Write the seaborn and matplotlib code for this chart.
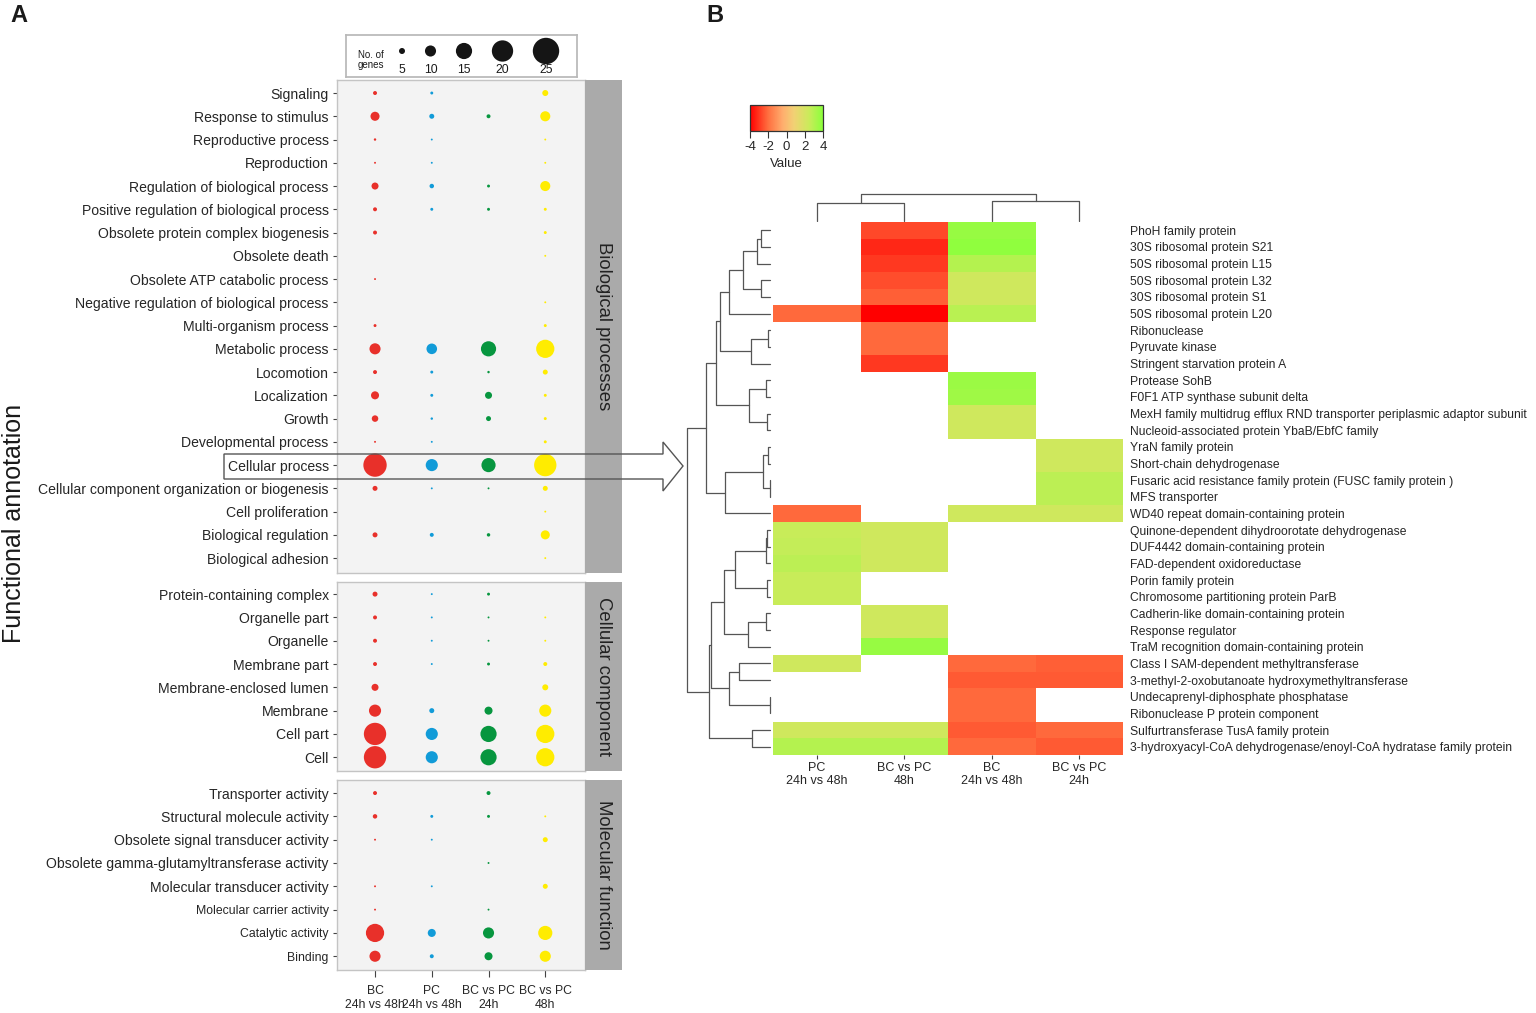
import matplotlib.pyplot as plt
import matplotlib.colors as mcolors
from matplotlib.patches import Polygon
import numpy as np
import pandas as pd
import seaborn as sns

# ---------------- data: panel A (number of genes per GO term) ----------------
groups = ['BC\n24h vs 48h', 'PC\n24h vs 48h', 'BC vs PC\n24h', 'BC vs PC\n48h']
group_colors = ['#e8302a', '#119bd8', '#07963f', '#ffec00']

bio_terms = ['Signaling', 'Response to stimulus', 'Reproductive process', 'Reproduction',
             'Regulation of biological process', 'Positive regulation of biological process',
             'Obsolete protein complex biogenesis', 'Obsolete death', 'Obsolete ATP catabolic process',
             'Negative regulation of biological process', 'Multi-organism process', 'Metabolic process',
             'Locomotion', 'Localization', 'Growth', 'Developmental process', 'Cellular process',
             'Cellular component organization or biogenesis', 'Cell proliferation',
             'Biological regulation', 'Biological adhesion']
bio_bc = [3, 8, 1.5, 1, 6, 3, 3, 0, 1, 0, 2, 10, 3, 7, 5.5, 1, 22, 4, 0, 4, 0]
bio_pc = [2, 4, 1, 1, 3.5, 2, 0, 0, 0, 0, 0, 9.5, 2, 2, 1.5, 1, 11, 1, 0, 3, 0]
bio_bcpc24 = [0, 3, 0, 0, 2, 2, 0, 0, 0, 0, 0, 14, 1.5, 6, 4, 0, 13, 1, 0, 2.5, 0]
bio_bcpc48 = [5, 9, 1, 1, 9, 2, 2, 1, 0, 1, 2, 17, 4, 2, 2, 2, 21, 4, 1, 8, 1]

cell_terms = ['Protein-containing complex', 'Organelle part', 'Organelle', 'Membrane part',
              'Membrane-enclosed lumen', 'Membrane', 'Cell part', 'Cell']
cell_bc = [4, 3, 3, 3, 6, 11, 21, 21]
cell_pc = [1, 1, 1, 1, 0, 4, 11, 11]
cell_bcpc24 = [2, 1, 1, 2, 0, 7, 15, 15]
cell_bcpc48 = [0, 1, 1, 3, 5, 11, 17, 17]

mol_terms = ['Transporter activity', 'Structural molecule activity', 'Obsolete signal transducer activity',
             'Obsolete gamma-glutamyltransferase activity', 'Molecular transducer activity',
             'Molecular carrier activity', 'Catalytic activity', 'Binding']
mol_bc = [3, 3.5, 1, 0, 1, 1, 17, 10]
mol_pc = [0, 2, 1, 0, 1, 0, 7, 3]
mol_bcpc24 = [3, 2, 0, 1, 0, 1, 10, 7]
mol_bcpc48 = [0, 1, 4, 0, 4, 0, 13, 10]

legend_genes = [5, 10, 15, 20, 25]

# ---------------- data: panel B (heatmap of log fold changes) ----------------
heat_cols = ['PC\n24h vs 48h', 'BC vs PC\n48h', 'BC\n24h vs 48h', 'BC vs PC\n24h']
proteins = ['PhoH family protein', '30S ribosomal protein S21', '50S ribosomal protein L15',
            '50S ribosomal protein L32', '30S ribosomal protein S1', '50S ribosomal protein L20',
            'Ribonuclease', 'Pyruvate kinase', 'Stringent starvation protein A', 'Protease SohB',
            'F0F1 ATP synthase subunit delta',
            'MexH family multidrug efflux RND transporter periplasmic adaptor subunit',
            'Nucleoid-associated protein YbaB/EbfC family', 'YraN family protein',
            'Short-chain dehydrogenase', 'Fusaric acid resistance family protein (FUSC family protein )',
            'MFS transporter', 'WD40 repeat domain-containing protein',
            'Quinone-dependent dihydroorotate dehydrogenase', 'DUF4442 domain-containing protein',
            'FAD-dependent oxidoreductase', 'Porin family protein', 'Chromosome partitioning protein ParB',
            'Cadherin-like domain-containing protein', 'Response regulator',
            'TraM recognition domain-containing protein', 'Class I SAM-dependent methyltransferase',
            '3-methyl-2-oxobutanoate hydroxymethyltransferase', 'Undecaprenyl-diphosphate phosphatase',
            'Ribonuclease P protein component', 'Sulfurtransferase TusA family protein',
            '3-hydroxyacyl-CoA dehydrogenase/enoyl-CoA hydratase family protein']
nan = np.nan
fc_pc = [nan, nan, nan, nan, nan, -2.1, nan, nan, nan, nan, nan, nan, nan, nan, nan, nan, nan, -2.1,
         2.5, 2.6, 2.8, 2.5, 2.5, nan, nan, nan, 2.3, nan, nan, nan, 2.3, 3.0]
fc_bcpc48 = [-2.7, -3.3, -3.0, -2.6, -2.3, -4.0, -2.1, -2.1, -3.0, nan, nan, nan, nan, nan, nan, nan, nan, nan,
             2.3, 2.3, 2.3, nan, nan, 2.3, 2.3, 3.7, nan, nan, nan, nan, 2.3, 3.0]
fc_bc = [3.7, 3.9, 3.0, 2.3, 2.3, 2.9, nan, nan, nan, 3.6, 3.5, 2.3, 2.3, nan, nan, nan, nan, 2.3,
         nan, nan, nan, nan, nan, nan, nan, nan, -2.1, -2.4, -2.1, -2.1, -2.4, -2.1]
fc_bcpc24 = [nan, nan, nan, nan, nan, nan, nan, nan, nan, nan, nan, nan, nan, 2.3, 2.3, 2.8, 2.8, 2.3,
             nan, nan, nan, nan, nan, nan, nan, nan, -2.3, -2.4, nan, nan, -2.1, -2.4]

# dendrograms: (left, right, height); leaves are row / column indices
row_tree = (((((((0, 1, 9), 2, 13), ((3, 4, 9)), 27), 5, 41), ((6, 7, 2), 8, 19), 50),
             ((9, 10, 4), (11, 12, 3), 21), 54),
            ((((13, 14, 2), (15, 16, 0.5), 7), 17, 45)), 64)
row_tree = (row_tree,
            (((((((18, 19, 3), 20, 4), (21, 22, 3), 35), ((23, 24, 4), 25, 22), 46),
               ((26, 27, 31), (28, 29, 0.5), 41), 59)), (30, 31, 18), 61), 83)
col_tree = ((0, 1, 18), (2, 3, 20), 27)

# ---------------- figure ----------------
sns.set_theme(style="white")
plt.rcParams['font.family'] = ['Liberation Sans', 'DejaVu Sans']
plt.rcParams['text.color'] = '#1a1a1a'
plt.rcParams['axes.unicode_minus'] = False

W, H = 1536, 1013
fig = plt.figure(figsize=(W / 100, H / 100), dpi=100)


def px_axes(x0, y0, x1, y1):
    return fig.add_axes([x0 / W, 1 - y1 / H, (x1 - x0) / W, (y1 - y0) / H])


def dot_size(c):
    return ((c * 1.02 + 0.9) * 0.72) ** 2


def dot_panel(terms, counts, y0, y1, ylim, strip_text, show_x, small=()):
    ax = px_axes(337, y0, 585, y1)
    rows = []
    for gi, g in enumerate(groups):
        for ti, t in enumerate(terms):
            if counts[gi][ti] > 0:
                rows.append({'x': gi, 'y': ti, 'group': g, 'genes': counts[gi][ti]})
    df = pd.DataFrame(rows)
    sns.scatterplot(data=df, x='x', y='y', hue='group', palette=dict(zip(groups, group_colors)),
                    size='genes', sizes={c: dot_size(c) for c in df['genes'].unique()},
                    linewidth=0, legend=False, ax=ax, zorder=3)
    ax.set_facecolor('#f3f3f3')
    for s in ax.spines.values():
        s.set_color('#c4c4c4')
        s.set_linewidth(1)
    ax.set_xlim(-0.67, 3.7)
    ax.set_ylim(*ylim)
    ax.set_yticks(range(len(terms)))
    ax.set_yticklabels(terms, fontsize=10.1)
    for lab in ax.get_yticklabels():
        if lab.get_text() in small:
            lab.set_fontsize(8.8)
    ax.set_xticks(range(len(groups)))
    if show_x:
        ax.set_xticklabels(groups, fontsize=8.8, linespacing=1.15)
    else:
        ax.set_xticklabels([])
        ax.tick_params(axis='x', length=0)
    ax.tick_params(axis='y', length=3, width=0.8, color='#444444', pad=3, left=True)
    ax.tick_params(axis='x', bottom=show_x, length=5, width=0.8, color='#444444', pad=6)
    ax.set_xlabel('')
    ax.set_ylabel('')
    sax = px_axes(585, y0, 622, y1)
    sax.set_facecolor('#aaaaaa')
    sax.set_xticks([])
    sax.set_yticks([])
    for s in sax.spines.values():
        s.set_visible(False)
    sax.text(0.5, 0.5, strip_text, rotation=270, ha='center', va='center',
             fontsize=13.3, color='#222222', transform=sax.transAxes)
    return ax


dot_panel(bio_terms, [bio_bc, bio_pc, bio_bcpc24, bio_bcpc48], 80, 573, (20.64, -0.56),
          'Biological processes', False)
dot_panel(cell_terms, [cell_bc, cell_pc, cell_bcpc24, cell_bcpc48], 582, 771, (7.59, -0.52),
          'Cellular component', False)
dot_panel(mol_terms, [mol_bc, mol_pc, mol_bcpc24, mol_bcpc48], 780, 970, (7.59, -0.56),
          'Molecular function', True,
          small=('Molecular carrier activity', 'Catalytic activity', 'Binding'))

# size legend
lax = px_axes(346, 35, 577, 77)
lax.set_xlim(0, 231)
lax.set_ylim(42, 0)
leg_x = [56.0]
for a, b in zip(legend_genes[:-1], legend_genes[1:]):
    leg_x.append(leg_x[-1] + (a + b) / 2 + 21)
leg_df = pd.DataFrame({'x': leg_x, 'y': 16, 'genes': legend_genes})
sns.scatterplot(data=leg_df, x='x', y='y', size='genes',
                sizes={c: dot_size(c) for c in legend_genes}, color='#151515',
                linewidth=0, legend=False, ax=lax)
for xv, g in zip(leg_x, legend_genes):
    lax.text(xv, 35, str(g), ha='center', va='center', fontsize=8.8)
lax.text(25, 25, 'No. of\ngenes', ha='center', va='center', fontsize=7, linespacing=1.1)
lax.set_xticks([])
lax.set_yticks([])
lax.set_xlabel('')
lax.set_ylabel('')
for s in lax.spines.values():
    s.set_color('#b8b8b8')

fig.text(14 / W, 1 - 523 / H, 'Functional annotation', rotation=90, ha='center', va='center', fontsize=18)
fig.text(10 / W, 1 - 15 / H, 'A', fontsize=17, fontweight='bold', ha='left', va='center')
fig.text(706 / W, 1 - 15 / H, 'B', fontsize=17, fontweight='bold', ha='left', va='center')

# highlight box + arrow around "Cellular process"
arrow_px = [(224, 454), (663, 454), (663, 442), (683, 466), (663, 491), (663, 479), (224, 479)]
fig.add_artist(Polygon([(x / W, 1 - y / H) for x, y in arrow_px], closed=True, fill=False,
                       edgecolor='#555555', linewidth=1, transform=fig.transFigure, zorder=5))

# ---------------- panel B heatmap ----------------
heat = pd.DataFrame({heat_cols[0]: fc_pc, heat_cols[1]: fc_bcpc48,
                     heat_cols[2]: fc_bc, heat_cols[3]: fc_bcpc24}, index=proteins)
cmap = mcolors.LinearSegmentedColormap.from_list(
    'rg', [(0, '#ff0000'), (0.25, '#ff7040'), (0.45, '#ffae6e'), (0.6, '#f2d074'),
           (0.8, '#cdea5c'), (1, '#8cff3c')])

hax = px_axes(773, 222, 1123, 755)
cax = px_axes(750, 105, 823, 131)
sns.heatmap(heat, ax=hax, cmap=cmap, vmin=-4, vmax=4, cbar_ax=cax,
            cbar_kws={'orientation': 'horizontal', 'ticks': [-4, -2, 0, 2, 4]},
            xticklabels=heat_cols, yticklabels=proteins)
hax.yaxis.tick_right()
hax.set_yticklabels(proteins, rotation=0, fontsize=8.7)
hax.set_xticklabels(heat_cols, rotation=0, fontsize=9, linespacing=1.1)
hax.tick_params(axis='y', length=0, pad=5)
hax.tick_params(axis='x', bottom=True, length=3, width=0.8, color='#444444', pad=2)
hax.set_xlabel('')
hax.set_ylabel('')

cb = hax.collections[0].colorbar
cb.outline.set_linewidth(0.9)
cb.outline.set_edgecolor('#333333')
cax.tick_params(axis='x', bottom=True, length=5, width=0.8, color='#333333', labelsize=9.5, pad=2)
cax.set_xlabel('Value', fontsize=9.5, labelpad=4)


def draw_tree(ax, node, vertical):
    if not isinstance(node, tuple):
        return node + 0.5, 0
    left, right, h = node
    lp, lh = draw_tree(ax, left, vertical)
    rp, rh = draw_tree(ax, right, vertical)
    if vertical:
        ax.plot([lh, h, h, rh], [lp, lp, rp, rp], color='#555555', lw=0.9)
    else:
        ax.plot([lp, lp, rp, rp], [lh, h, h, rh], color='#555555', lw=0.9)
    return (lp + rp) / 2, h


rax = px_axes(684, 222, 773, 755)
draw_tree(rax, row_tree, True)
rax.set_ylim(len(proteins), 0)
rax.set_xlim(86, -3)
rax.axis('off')

dax = px_axes(773, 190, 1123, 222)
draw_tree(dax, col_tree, False)
dax.set_xlim(0, len(heat_cols))
dax.set_ylim(-1, 31)
dax.axis('off')

fig.savefig('out.png', dpi=100)
